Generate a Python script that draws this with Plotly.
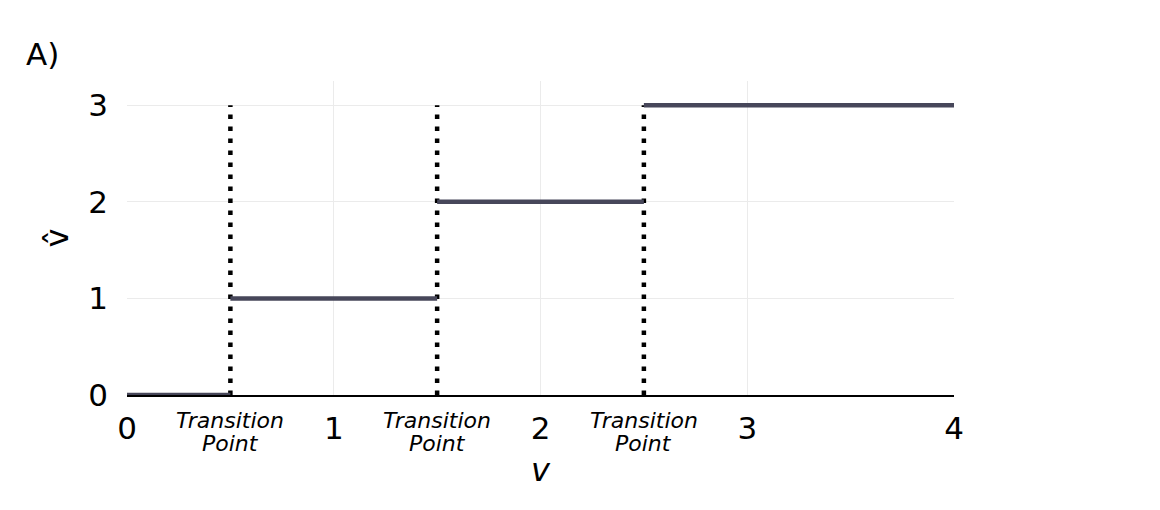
import plotly.graph_objects as go

# Data
step_starts = [0, 0.5, 1.5, 2.5]
step_ends = [0.5, 1.5, 2.5, 4]
step_values = [0, 1, 2, 3]
transition_points = [0.5, 1.5, 2.5]
transition_lines = ["Transition", "Point"]
x_ticks = [0, 1, 2, 3, 4]
y_ticks = [0, 1, 2, 3]

FONT = "DejaVu Sans"

fig = go.Figure()

# dotted transition lines
dx, dy = [], []
for t in transition_points:
    dx += [t, t, None]
    dy += [0, 3, None]
fig.add_trace(go.Scatter(x=dx, y=dy, mode="lines",
                         line=dict(color="black", width=4.5, dash="4.5px,7.5px"),
                         hoverinfo="skip", showlegend=False))

# step segments
sx, sy = [], []
for a, b, v in zip(step_starts, step_ends, step_values):
    sx += [a, b, None]
    sy += [v, v, None]
fig.add_trace(go.Scatter(x=sx, y=sy, mode="lines",
                         line=dict(color="#47475a", width=4.5),
                         hoverinfo="skip", showlegend=False))

annotations = []
line_pos = [-0.08, -0.154]
for t in transition_points:
    for txt, yp in zip(transition_lines, line_pos):
        annotations.append(dict(x=t, xref="x", y=yp, yref="paper",
                                text="<i>" + txt + "</i>",
                                showarrow=False, xanchor="center", yanchor="middle",
                                font=dict(family=FONT, size=22, color="black")))
annotations.append(dict(x=-0.125, xref="paper", y=1.085, yref="paper",
                        text="A)", showarrow=False, xanchor="left", yanchor="middle",
                        font=dict(family=FONT, size=31, color="black")))

fig.update_layout(
    width=1150, height=500,
    margin=dict(l=119, r=204, t=73, b=113),
    paper_bgcolor="white", plot_bgcolor="white",
    font=dict(family=FONT, color="black"),
    annotations=annotations,
    xaxis=dict(range=[0, 4], tickvals=x_ticks, ticktext=[str(v) for v in x_ticks],
               showgrid=True, gridcolor="#ebebeb", gridwidth=1,
               zeroline=False, showline=True, linecolor="black", linewidth=2,
               tickfont=dict(family=FONT, size=31, color="black"),
               ticklabelstandoff=5,
               title=dict(text="<i>v</i>", font=dict(family=FONT, size=32, color="black"),
                          standoff=13)),
    yaxis=dict(range=[0, 3.25], tickvals=y_ticks, ticktext=[str(v) for v in y_ticks],
               showgrid=True, gridcolor="#ebebeb", gridwidth=1,
               zeroline=False, showline=False,
               tickfont=dict(family=FONT, size=31, color="black"),
               ticklabelstandoff=18,
               title=dict(text="v\u0302", font=dict(family=FONT, size=32, color="black"),
                          standoff=10)),
)

fig.write_html("out.html")
